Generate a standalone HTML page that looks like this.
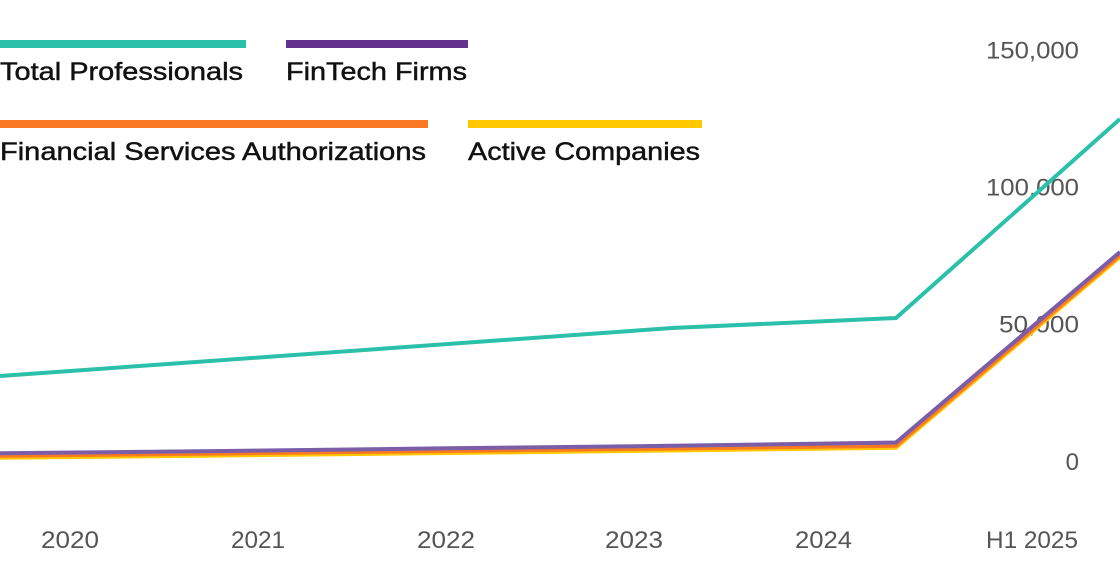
<!DOCTYPE html>
<html>
<head>
<meta charset="utf-8">
<style>
  html,body{margin:0;padding:0;background:#fff;}
  svg{display:block;}
  .leg{font-family:"Liberation Sans",Arial,sans-serif;font-size:25px;fill:#111;stroke:#111;stroke-width:0.45px;}
  .ax{font-family:"Liberation Sans",Arial,sans-serif;font-size:24px;fill:#555;}
</style>
</head>
<body>
<svg width="1120" height="588" viewBox="0 0 1120 588" xmlns="http://www.w3.org/2000/svg">
  <rect width="1120" height="588" fill="#fff"/>

  <!-- Y axis labels -->
  <text class="ax" x="1079" y="58.5" text-anchor="end" textLength="93" lengthAdjust="spacingAndGlyphs">150,000</text>
  <text class="ax" x="1079" y="195.5" text-anchor="end" textLength="93" lengthAdjust="spacingAndGlyphs">100,000</text>
  <text class="ax" x="1079" y="332.5" text-anchor="end" textLength="80" lengthAdjust="spacingAndGlyphs">50,000</text>
  <text class="ax" x="1079" y="470" text-anchor="end">0</text>

  <!-- X axis labels -->
  <text class="ax" x="41" y="548" textLength="58" lengthAdjust="spacingAndGlyphs">2020</text>
  <text class="ax" x="231" y="548" textLength="54" lengthAdjust="spacingAndGlyphs">2021</text>
  <text class="ax" x="417" y="548" textLength="58" lengthAdjust="spacingAndGlyphs">2022</text>
  <text class="ax" x="605" y="548" textLength="58" lengthAdjust="spacingAndGlyphs">2023</text>
  <text class="ax" x="795" y="548" textLength="57" lengthAdjust="spacingAndGlyphs">2024</text>
  <text class="ax" x="986" y="548" textLength="92" lengthAdjust="spacingAndGlyphs">H1 2025</text>

  <!-- Series -->
  <g fill="none" stroke-width="4" stroke-linejoin="miter">
    <polyline stroke="#2bc0aa" points="0,376 224,360 448,344 672,328 896,318 1120,119"/>
    <polyline stroke="#ffc800" points="0,457.8 224,455.5 448,453 672,450.5 896,447.8 1120,257"/>
    <polyline stroke="#f97a22" points="0,455.8 224,453.5 448,451 672,448.5 896,445.8 1120,255"/>
    <polyline stroke="#7b5ea7" points="0,453.3 224,451 448,448.3 672,445.8 896,442.5 1120,252"/>
  </g>

  <!-- Legend -->
  <rect x="0" y="40" width="246" height="8" fill="#2bc0aa"/>
  <text class="leg" x="0" y="80" textLength="243" lengthAdjust="spacingAndGlyphs">Total Professionals</text>

  <rect x="286" y="40" width="182" height="8" fill="#65318f"/>
  <text class="leg" x="286" y="80" textLength="181" lengthAdjust="spacingAndGlyphs">FinTech Firms</text>

  <rect x="0" y="120" width="428" height="8" fill="#f97a22"/>
  <text class="leg" x="0" y="160" textLength="426" lengthAdjust="spacingAndGlyphs">Financial Services Authorizations</text>

  <rect x="468" y="120" width="234" height="8" fill="#ffc800"/>
  <text class="leg" x="468" y="160" textLength="232" lengthAdjust="spacingAndGlyphs">Active Companies</text>
</svg>
</body>
</html>
